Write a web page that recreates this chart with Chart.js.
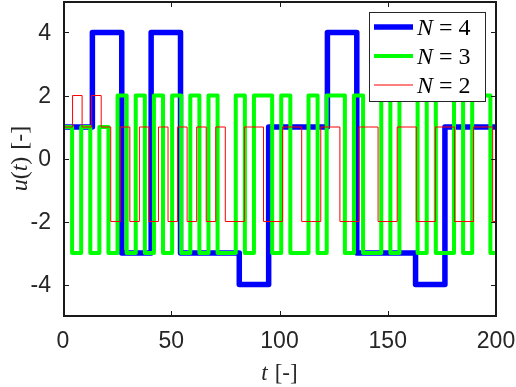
<!DOCTYPE html>
<html>
<head>
<meta charset="utf-8">
<script src="https://cdn.jsdelivr.net/npm/chart.js@4.4.1/dist/chart.umd.min.js"></script>
<style>
	html, body { margin: 0; padding: 0; background: #fff; }
	#wrap { width: 516px; height: 387px; }
</style>
</head>
<body>
<div id="wrap"><canvas id="uChart" width="516" height="387"></canvas></div>
<script>
(function() {
	'use strict';

	// axis ranges and ticks
	var xMin = 0, xMax = 200;
	var yMin = -5, yMax = 5;
	var xTicks = [0, 50, 100, 150, 200];
	var yTicks = [-4, -2, 0, 2, 4];

	// sample period of each signal
	var dtN4 = 13.57;
	var dtN3 = 4.2;
	var dtN2 = 4.41;

	// held value in each period
	var uN4 = [1, 4, -3, 4, -3, -3, -4, 1, 1, 4, -3, -3, -4, 1, 1];
	var uN3 = [1, -3, 1, -3, 1, -3, 2, -3, 2, -3, 2, -3, 2, -3, 2, -3,
		2, -3, -3, 2, -3, 2, 2, -3, 2, -3, -3, 2, -3, 2, 2, -3,
		2, -3, -3, 2, -3, 2, 2, -3, 2, -3, -3, 2, -3, 2, 2, -3];
	var uN2 = [1, 2, 1, 2, 1, -2, 1, -2, 1, -2, 1, -2, 1, -2, 1, -2, 1,
		-2, -2, 1, 1, -2, -2, 1, 1, -2, -2, 1, 1, -2, -2, 1, 1,
		-2, -2, 1, 1, -2, -2, 1, 1, -2, -2, 1, 1, -2];

	var seriesN = ['4', '3', '2'];
	var seriesColor = ['#0000ff', '#00ff00', '#ff0000'];
	var seriesWidth = [5.5, 4, 1];

	var ink = '#262626';
	var serif = '"Liberation Serif", "Times New Roman", serif';
	var sans = '"Liberation Sans", Arial, sans-serif';

	var toPoints = function(dt, u) {
		var pts = u.map(function(v, k) { return { x: k * dt, y: v }; });
		pts.push({ x: xMax, y: u[u.length - 1] });
		return pts;
	};

	// draw mixed italic/upright text runs in one line
	var drawRuns = function(ctx, runs, x, y, align) {
		var w = 0;
		runs.forEach(function(r) {
			ctx.font = r.font;
			r.w = ctx.measureText(r.text).width + (r.gap || 0);
			w += r.w;
		});
		var cx = align === 'center' ? x - w / 2 : x;
		ctx.textAlign = 'left';
		ctx.textBaseline = 'alphabetic';
		runs.forEach(function(r) {
			ctx.font = r.font;
			ctx.fillText(r.text, cx, y);
			cx += r.w;
		});
	};

	var it = function(px) { return 'italic ' + px + 'px ' + serif; };
	var up = function(px) { return px + 'px ' + serif; };

	var matlabAxes = {
		id: 'matlabAxes',
		afterDraw: function(chart) {
			var ctx = chart.ctx;
			var xs = chart.scales.x, ys = chart.scales.y;
			var L = Math.round(xs.getPixelForValue(xMin));
			var R = Math.round(xs.getPixelForValue(xMax));
			var T = Math.round(ys.getPixelForValue(yMax));
			var B = Math.round(ys.getPixelForValue(yMin));
			var tl = 5;
			ctx.save();

			// axes box and inward ticks
			ctx.fillStyle = '#1a1a1a';
			ctx.fillRect(L, T, R - L + 1, 2);
			ctx.fillRect(L, B - 1, R - L + 1, 2);
			ctx.fillRect(L, T, 2, B - T + 1);
			ctx.fillRect(R - 1, T, 2, B - T + 1);
			xTicks.forEach(function(v) {
				var px = Math.round(xs.getPixelForValue(v));
				ctx.fillRect(px, B - tl, 1, tl);
				ctx.fillRect(px, T + 1, 1, tl);
			});
			yTicks.forEach(function(v) {
				var py = Math.round(ys.getPixelForValue(v));
				ctx.fillRect(L + 1, py, tl, 1);
				ctx.fillRect(R - tl, py, tl, 1);
			});

			// tick labels
			ctx.fillStyle = ink;
			ctx.font = '23px ' + sans;
			ctx.textAlign = 'center';
			ctx.textBaseline = 'middle';
			xTicks.forEach(function(v) {
				ctx.fillText(String(v), xs.getPixelForValue(v), B + 26);
			});
			ctx.textAlign = 'right';
			yTicks.forEach(function(v) {
				ctx.fillText(String(v), L - 12, ys.getPixelForValue(v) + 1);
			});

			// axis titles
			drawRuns(ctx, [
				{ text: 't', font: it(23), gap: 7 },
				{ text: '[-]', font: up(23) }
			], (L + R) / 2, 380, 'center');

			ctx.save();
			ctx.translate(27, (T + B) / 2);
			ctx.rotate(-Math.PI / 2);
			drawRuns(ctx, [
				{ text: 'u', font: it(24) },
				{ text: '(', font: up(24) },
				{ text: 't', font: it(24) },
				{ text: ')', font: up(24), gap: 7 },
				{ text: '[-]', font: up(24) }
			], 0, 0, 'center');
			ctx.restore();

			// legend box in the upper right corner
			var bx = 369, by = 12, bw = 116, bh = 89;
			ctx.fillStyle = '#ffffff';
			ctx.fillRect(bx, by, bw, bh);
			ctx.fillStyle = ink;
			ctx.fillRect(bx, by, bw + 1, 1);
			ctx.fillRect(bx, by + bh, bw + 1, 1);
			ctx.fillRect(bx, by, 1, bh + 1);
			ctx.fillRect(bx + bw, by, 1, bh + 1);
			chart.data.datasets.forEach(function(ds, i) {
				var ry = by + 15 + i * 29;
				ctx.strokeStyle = ds.borderColor;
				ctx.lineWidth = ds.borderWidth;
				ctx.beginPath();
				ctx.moveTo(bx + 5, ry);
				ctx.lineTo(bx + 44, ry);
				ctx.stroke();
				ctx.fillStyle = '#000000';
				drawRuns(ctx, [
					{ text: 'N', font: it(24), gap: 6 },
					{ text: '=', font: up(24), gap: 6 },
					{ text: seriesN[i], font: up(24) }
				], bx + 48, ry + 8, 'left');
			});
			ctx.restore();
		}
	};

	var dts = [dtN4, dtN3, dtN2];
	var us = [uN4, uN3, uN2];
	var datasets = seriesN.map(function(n, i) {
		return {
			label: 'N = ' + n,
			data: toPoints(dts[i], us[i]),
			borderColor: seriesColor[i],
			backgroundColor: seriesColor[i],
			borderWidth: seriesWidth[i],
			borderJoinStyle: 'round',
			stepped: true,
			pointRadius: 0,
			fill: false,
			order: 3 - i
		};
	});

	new Chart(document.getElementById('uChart').getContext('2d'), {
		type: 'line',
		data: { datasets: datasets },
		options: {
			responsive: false,
			animation: false,
			layout: { padding: { left: 0, right: 20, top: 1, bottom: 0 } },
			plugins: { legend: { display: false }, tooltip: { enabled: false } },
			scales: {
				x: {
					type: 'linear',
					min: xMin,
					max: xMax,
					afterBuildTicks: function(s) { s.ticks = xTicks.map(function(v) { return { value: v }; }); },
					afterFit: function(s) { s.height = 71; },
					grid: { display: false },
					border: { display: false },
					ticks: { display: false }
				},
				y: {
					type: 'linear',
					min: yMin,
					max: yMax,
					afterBuildTicks: function(s) { s.ticks = yTicks.map(function(v) { return { value: v }; }); },
					afterFit: function(s) { s.width = 63; },
					grid: { display: false },
					border: { display: false },
					ticks: { display: false }
				}
			}
		},
		plugins: [matlabAxes]
	});
})();
</script>
</body>
</html>
